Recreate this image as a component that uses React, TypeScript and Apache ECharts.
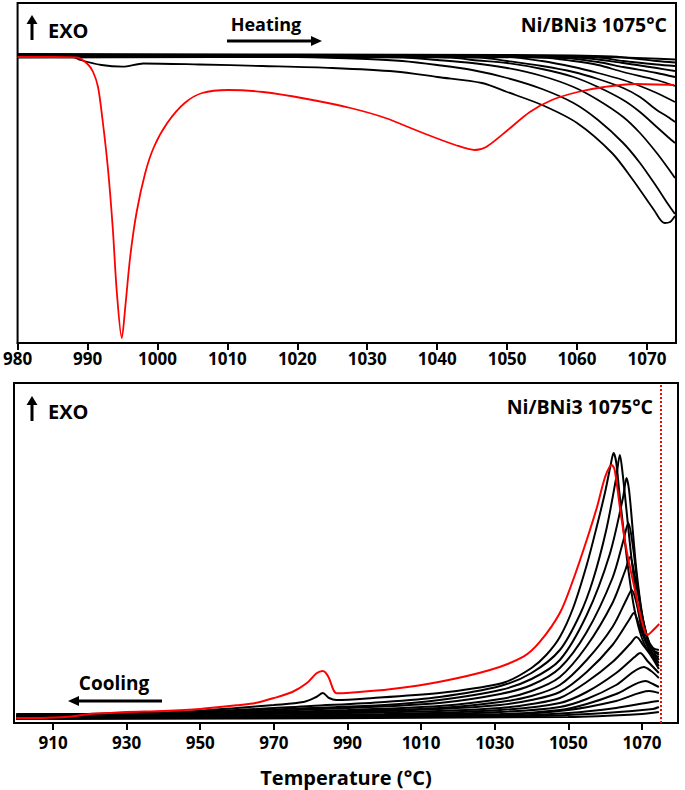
import React, { useEffect, useRef } from 'react';
import * as echarts from 'echarts';

// ---------- tick labels ----------
const TOP_TICKS = [980, 990, 1000, 1010, 1020, 1030, 1040, 1050, 1060, 1070];
const BOTTOM_TICKS = [910, 930, 950, 970, 990, 1010, 1030, 1050, 1070];
const HOLD_TEMP = 1075;

// ---------- heating (top panel), signal in a.u., exo up ----------
const heatRed = [
  [980, 0], [985, 0], [988.5, -0.05], [990, -0.7], [990.8, -1.5], [991.5, -3.0], [992.1, -6.0],
  [992.9, -11.0], [993.6, -17.0], [994.2, -23.6], [994.9, -28.1], [995.4, -25.0], [996.1, -20.0],
  [997.0, -15.6], [998.25, -11.6], [999.5, -9.0], [1001.4, -6.6], [1003.9, -4.6], [1006.4, -3.6],
  [1010.1, -3.3], [1015.1, -3.5], [1021.4, -4.2], [1027.6, -5.1], [1032.6, -6.1], [1037.6, -7.5],
  [1042.6, -8.8], [1045.4, -9.3], [1047, -9.0], [1050.1, -7.3], [1053.25, -5.5], [1056.4, -4.3],
  [1060.1, -3.5], [1063.9, -3.0], [1068.25, -2.7], [1073.9, -2.8],
];
const heatA = [
  [980, 0.1], [985, 0.05], [988, 0], [989, -0.3], [992, -0.8], [995, -0.97], [998, -0.65],
  [1006, -0.75], [1015, -0.9], [1025, -1.1], [1034, -1.45], [1040, -2.0], [1046.4, -2.6],
  [1050, -3.5], [1055, -4.8], [1060, -6.6], [1065, -9.6], [1068, -12.3], [1071, -15.3],
  [1072.5, -16.6], [1073.3, -16.5], [1074, -15.9],
];
const heatB = [
  [980, 0.15], [1000, 0.1], [1020, 0], [1030, -0.2], [1035, -0.4], [1040, -0.8], [1045, -1.3],
  [1050, -2.1], [1055, -3.2], [1059.5, -4.6], [1063, -6.3], [1066.6, -8.6], [1069, -10.6],
  [1071.4, -13.0], [1073, -14.7], [1074, -15.7],
];
const heatC = [
  [980, 0.2], [1010, 0.1], [1035, -0.05], [1040, -0.3], [1045, -0.6], [1050, -1.1], [1055, -1.9],
  [1059.5, -3.0], [1063, -4.3], [1066.6, -6.0], [1069, -7.6], [1071.4, -9.6], [1073, -11.1], [1074, -12.1],
];
const heatD = [
  [980, 0.05], [1020, 0.05], [1042, -0.05], [1045, -0.3], [1050, -0.6], [1055, -1.2], [1059.5, -2.0],
  [1063, -3.0], [1066.6, -4.3], [1069, -5.5], [1071.4, -7.0], [1073, -8.0], [1074, -8.6],
];
const heatE = [
  [980, -0.05], [1030, 0], [1046, -0.05], [1050, -0.4], [1055, -0.9], [1059.5, -1.5], [1063, -2.2],
  [1066.6, -3.1], [1069, -4.0], [1071.4, -5.3], [1073, -6.0], [1074, -6.5],
];
const heatF = [
  [980, 0.25], [1030, 0.1], [1050, 0], [1055, -0.4], [1059.5, -1.0], [1063, -1.6], [1066.6, -2.3],
  [1069, -2.9], [1071.4, -3.6], [1074, -4.5],
];
const heatG = [
  [980, 0.1], [1040, 0.05], [1055, -0.05], [1059.5, -0.4], [1063, -0.8], [1066.6, -1.5], [1071.4, -2.3], [1074, -2.9],
];
const heatH = [[980, 0], [1040, 0], [1058, -0.1], [1063, -0.5], [1066.6, -1.0], [1071.4, -1.6], [1074, -2.0]];
const heatI = [[980, 0.2], [1050, 0.1], [1061, -0.1], [1066.6, -0.6], [1071.4, -1.1], [1074, -1.4]];
const heatJ = [[980, 0.15], [1050, 0.05], [1063, -0.05], [1066.6, -0.4], [1071.4, -0.75], [1074, -0.9]];
const heatK = [[980, 0.3], [1050, 0.2], [1065, 0.05], [1071.4, -0.4], [1074, -0.55]];
const heatL = [[980, 0.1], [1060, 0.05], [1074, -0.25]];

// ---------- cooling (bottom panel), signal in a.u., exo up ----------
const coolRed = [
  [900, -0.2], [905, -0.2], [910, -0.15], [915, -0.05], [920, 0.2], [925, 0.3], [930, 0.4], [940, 0.5],
  [950, 0.7], [960.8, 1.1], [965, 1.3], [969.8, 1.77], [975, 2.4], [978.9, 3.27], [981.6, 4.27],
  [983.3, 4.5], [984.8, 3.93], [986.2, 2.6], [987.1, 2.27], [990.7, 2.33], [1001.5, 2.67],
  [1015.1, 3.43], [1028.7, 4.6], [1037.8, 5.93], [1042.3, 7.43], [1047.7, 10.3], [1051.3, 13.6],
  [1055, 17.6], [1057.8, 20.9], [1060, 23.9], [1061.8, 25.1], [1062.6, 24.6], [1064, 20.9],
  [1065.8, 16.6], [1068.1, 12.6], [1069.9, 9.6], [1071.5, 8.1], [1073.1, 8.6], [1074.7, 9.2],
];
const cool1 = [
  [900, 0.2], [915, 0.2], [930, 0.3], [945, 0.4], [960, 0.8], [970, 1.1], [978, 1.4], [981.5, 1.9],
  [983.3, 2.3], [985, 1.8], [987, 1.6], [997, 1.8], [1015, 2.3], [1025, 2.8], [1033, 3.4], [1040, 4.8],
  [1044, 6.1], [1047.7, 7.9], [1051.3, 10.8], [1055, 15.1], [1057.7, 18.9], [1060, 22.4], [1061.5, 25.1],
  [1062.3, 26.3], [1063, 25.4], [1063.8, 22.6], [1065, 18.6], [1066.5, 14.1], [1068, 10.6], [1070, 7.8],
  [1072, 6.4], [1074.6, 5.9],
];
const cool2 = [
  [900, 0.1], [930, 0.2], [960, 0.6], [980, 1.0], [1000, 1.4], [1015, 1.9], [1031.5, 3.0], [1040, 4.3],
  [1047.7, 6.6], [1053.1, 10.1], [1056.7, 13.6], [1060.3, 18.6], [1063, 23.8], [1064, 26.1], [1064.8, 24.1],
  [1065.8, 20.6], [1067, 16.3], [1068.5, 11.8], [1070, 8.6], [1072, 6.8], [1074.6, 6.3],
];
const cool3 = [
  [900, 0], [930, 0.15], [960, 0.5], [980, 0.8], [1000, 1.1], [1015, 1.6], [1031.5, 2.6], [1040, 3.7],
  [1047.7, 5.6], [1055, 10.1], [1061.2, 16.1], [1064.9, 21.9], [1065.8, 23.8], [1066.5, 22.6],
  [1067.5, 18.6], [1068.5, 14.6], [1070, 10.3], [1071.5, 7.8], [1073, 6.8], [1074.6, 6.6],
];
const cool4 = [
  [900, 0], [960, 0.4], [990, 0.8], [1015, 1.3], [1031.5, 2.2], [1040, 3.1], [1047.7, 4.8], [1055, 8.4],
  [1062, 13.8], [1065, 17.6], [1066.3, 19.3], [1067.5, 17.1], [1069, 12.6], [1070.5, 9.1], [1072, 7.1], [1074.6, 6.1],
];
const cool5 = [
  [900, -0.05], [960, 0.3], [990, 0.6], [1015, 1.0], [1031.5, 1.7], [1040, 2.5], [1047.7, 3.9], [1055, 7.0],
  [1062, 11.3], [1065.5, 14.6], [1066.8, 15.9], [1068, 14.1], [1070, 10.1], [1072, 7.3], [1074.6, 5.6],
];
const cool6 = [
  [900, -0.1], [960, 0.2], [990, 0.5], [1015, 0.8], [1031.5, 1.4], [1040, 2.0], [1047.7, 3.1], [1055, 5.6],
  [1062, 8.9], [1066, 11.8], [1067.2, 12.6], [1069, 10.6], [1071, 7.6], [1074.6, 5.3],
];
const cool7 = [
  [900, -0.1], [990, 0.4], [1015, 0.7], [1031.5, 1.1], [1040, 1.6], [1047.7, 2.4], [1055, 4.4], [1062, 7.1],
  [1066.5, 9.6], [1067.8, 10.3], [1069.5, 8.8], [1072, 6.6], [1074.6, 5.0],
];
const cool8 = [
  [900, -0.15], [990, 0.3], [1015, 0.5], [1031.5, 0.8], [1040, 1.2], [1047.7, 1.8], [1055, 3.4], [1062, 5.4],
  [1067, 7.3], [1068.5, 7.9], [1070.5, 7.0], [1072.5, 6.0], [1074.6, 4.7],
];
const cool9 = [
  [900, -0.15], [1000, 0.2], [1031.5, 0.6], [1047.7, 1.3], [1055, 2.4], [1063, 4.3], [1068, 5.9],
  [1069.5, 6.3], [1071.5, 5.5], [1074.6, 4.3],
];
const cool10 = [
  [900, -0.2], [1000, 0.1], [1031.5, 0.4], [1047.7, 0.9], [1055, 1.7], [1063, 3.1], [1070.5, 4.9], [1072.5, 4.5], [1074.6, 3.8],
];
const cool11 = [
  [900, -0.2], [1031.5, 0.2], [1047.7, 0.6], [1055, 1.2], [1063, 2.2], [1071, 3.5], [1073, 3.2], [1074.6, 2.9],
];
const cool12 = [[900, -0.25], [1030, 0.1], [1050, 0.6], [1063, 1.5], [1072, 2.5], [1074.6, 2.3]];
const cool13 = [[900, -0.2], [1030, 0], [1050, 0.3], [1063, 0.8], [1072.5, 1.4], [1074.6, 1.5]];
const cool14 = [[900, -0.25], [1040, 0], [1060, 0.3], [1073, 0.7], [1074.6, 0.9]];
const cool15 = [[900, -0.3], [1050, -0.1], [1070, 0.2], [1074.6, 0.4]];

const heatBlack = [heatA, heatB, heatC, heatD, heatE, heatF, heatG, heatH, heatI, heatJ, heatK, heatL];
const coolBlack = [cool1, cool2, cool3, cool4, cool5, cool6, cool7, cool8, cool9, cool10, cool11, cool12, cool13, cool14, cool15];

const FONT = '"Open Sans", "Noto Sans", sans-serif';
const RED = '#ff0000';

function lineSeries(data: number[][], idx: number, color: string, width: number, z: number, extra: any = {}) {
  return {
    type: 'line',
    xAxisIndex: idx,
    yAxisIndex: idx,
    data,
    symbol: 'none',
    showSymbol: false,
    smooth: 0.3,
    lineStyle: { color, width },
    z,
    silent: true,
    ...extra,
  };
}

function xAxisCfg(gridIndex: number, min: number, max: number, ticks: number[], margin: number, extra: any = {}) {
  return {
    gridIndex,
    type: 'value',
    min,
    max,
    axisLine: { show: true, onZero: false, lineStyle: { color: '#000', width: 2 } },
    axisTick: { show: true, customValues: ticks, length: 7, lineStyle: { color: '#000', width: 2 } },
    axisLabel: {
      customValues: ticks,
      margin,
      color: '#000',
      fontWeight: 'bold',
      fontSize: 17,
      fontFamily: FONT,
      formatter: (v: number) => String(v),
    },
    splitLine: { show: false },
    ...extra,
  };
}

function buildOption() {
  const series: any[] = [];
  heatBlack.forEach((d) => series.push(lineSeries(d, 0, '#000', 1.8, 2)));
  series.push(lineSeries(heatRed, 0, RED, 1.8, 3));
  coolBlack.forEach((d) => series.push(lineSeries(d, 1, '#000', 2, 2)));
  series.push(
    lineSeries(coolRed, 1, RED, 2, 3, {
      markLine: {
        silent: true,
        symbol: ['none', 'none'],
        label: { show: false },
        lineStyle: { color: RED, type: 'dotted', width: 2 },
        data: [{ xAxis: HOLD_TEMP }],
      },
    })
  );

  const txt = (x: number, y: number, text: string, size: number, align: string) => ({
    type: 'text',
    x,
    y,
    style: { text, fill: '#000', font: `bold ${size}px ${FONT}`, align, verticalAlign: 'middle' },
  });

  const graphic: any[] = [
    // top panel annotations
    { type: 'polygon', shape: { points: [[32, 15], [26.5, 24], [37.5, 24]] }, style: { fill: '#000' } },
    { type: 'rect', shape: { x: 30.5, y: 23, width: 3, height: 17 }, style: { fill: '#000' } },
    txt(48, 30, 'EXO', 20, 'left'),
    txt(266, 24, 'Heating', 18, 'center'),
    { type: 'rect', shape: { x: 227, y: 39.5, width: 86, height: 3 }, style: { fill: '#000' } },
    { type: 'polygon', shape: { points: [[322, 41], [311, 36], [311, 46]] }, style: { fill: '#000' } },
    txt(667, 24, 'Ni/BNi3 1075°C', 19.5, 'right'),
    // bottom panel annotations
    { type: 'polygon', shape: { points: [[32, 396], [26.5, 405], [37.5, 405]] }, style: { fill: '#000' } },
    { type: 'rect', shape: { x: 30.5, y: 404, width: 3, height: 17 }, style: { fill: '#000' } },
    txt(48, 411, 'EXO', 20, 'left'),
    txt(653, 406, 'Ni/BNi3 1075°C', 19.5, 'right'),
    txt(114, 683, 'Cooling', 19, 'center'),
    { type: 'polygon', shape: { points: [[68, 701], [79, 696], [79, 706]] }, style: { fill: '#000' } },
    { type: 'rect', shape: { x: 78, y: 699.5, width: 84, height: 3 }, style: { fill: '#000' } },
  ];

  return {
    animation: false,
    backgroundColor: '#fff',
    grid: [
      { left: 16, right: 9, top: 3, height: 340, show: true, borderColor: '#000', borderWidth: 2, containLabel: false },
      { left: 14, right: 7, top: 383, height: 340, show: true, borderColor: '#000', borderWidth: 2, containLabel: false },
    ],
    xAxis: [
      xAxisCfg(0, 980, 1074.15, TOP_TICKS, 7),
      xAxisCfg(1, 899.4, 1079.8, BOTTOM_TICKS, 11, {
        name: 'Temperature (°C)',
        nameLocation: 'middle',
        nameGap: 44,
        nameTextStyle: { color: '#000', fontWeight: 'bold', fontSize: 20, fontFamily: FONT },
      }),
    ],
    yAxis: [
      { gridIndex: 0, type: 'value', min: -28.6, max: 5.4, show: false, splitLine: { show: false } },
      { gridIndex: 1, type: 'value', min: -0.7, max: 33.3, show: false, splitLine: { show: false } },
    ],
    series,
    graphic,
  };
}

export default function App() {
  const ref = useRef<HTMLDivElement>(null);
  useEffect(() => {
    document.body.style.margin = '0';
    if (!ref.current) return;
    const chart = echarts.init(ref.current, null, { renderer: 'svg' });
    chart.setOption(buildOption() as any);
    return () => chart.dispose();
  }, []);
  return <div ref={ref} style={{ width: 685, height: 790 }} />;
}
